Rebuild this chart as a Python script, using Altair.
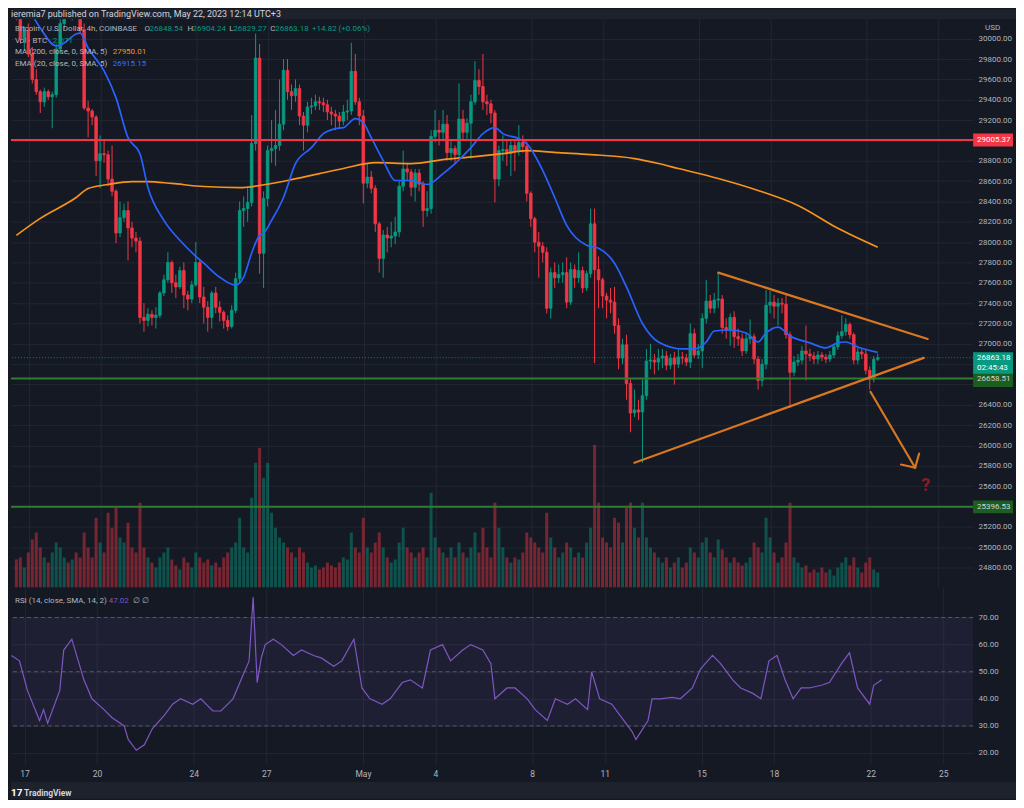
import altair as alt
import pandas as pd

# ---------------- data ----------------
close = [30220, 30000, 30080, 29850, 29600, 29480, 29380, 29480, 29430, 29450,
         29900, 30150, 30300, 30250, 30350, 30300, 30090, 29320, 29290, 29230,
         28800, 28870, 28860, 28620, 28500, 28090, 28240, 28310, 28140, 28040,
         28010, 27260, 27230, 27290, 27260, 27280, 27500, 27630, 27800, 27600,
         27560, 27720, 27480, 27440, 27580, 27800, 27460, 27360, 27260, 27500,
         27360, 27310, 27230, 27170, 27330, 27640, 28310, 28330, 28390, 28970,
         29810, 27890, 28430, 28900, 28920, 28950, 29160, 29690, 29480, 29440,
         29510, 29240, 29150, 29330, 29340, 29380, 29370, 29350, 29280, 29260,
         29240, 29190, 29280, 29290, 29680, 29380, 29240, 28580, 28640, 28530,
         28180, 27840, 28070, 28040, 28060, 28100, 28550, 28720, 28690, 28540,
         28680, 28570, 28310, 28330, 29040, 29100, 29080, 29160, 28880, 28920,
         28860, 29210, 29080, 29170, 29380, 29590, 29530, 29380, 29360, 29270,
         28620, 28900, 28910, 28870, 28950, 28900, 28980, 28940, 28480, 28230,
         28000, 27960, 27900, 27350, 27700, 27650, 27680, 27700, 27410, 27730,
         27650, 27720, 27550, 27690, 28180, 27730, 27630, 27470, 27430, 27410,
         27180, 26860, 26990, 26610, 26320, 26350, 26330, 26490, 26830, 26840,
         26820, 26860, 26880, 26790, 26860, 26800, 26870, 26860, 26820, 27100,
         26890, 26930, 27250, 27420, 27350, 27430, 27440, 27160, 27130, 27260,
         27070, 27050, 26930, 27050, 27070, 26850, 26640, 26800, 27380, 27410,
         27370, 27400, 27390, 27090, 26720, 26820, 26840, 26930, 26900, 26880,
         26850, 26890, 26870, 26850, 26890, 26970, 27080, 27120, 27190, 27090,
         26840, 26920, 26900, 26740, 26650, 26848.54, 26863.18]

high = [30420, 30300, 30120, 30150, 29920, 29700, 29500, 29520, 29500, 29480,
        29950, 30250, 30400, 30450, 30480, 30420, 30350, 30150, 29390, 29310,
        29250, 29050, 29000, 28900, 28950, 28520, 28400, 28380, 28400, 28200,
        28100, 28050, 27400, 27350, 27330, 27360, 27520, 27680, 27900, 27820,
        27680, 27760, 27800, 27520, 27620, 28000, 27830, 27560, 27420, 27520,
        27560, 27420, 27330, 27280, 27380, 27700, 28400, 28450, 28550, 29250,
        30050, 29950, 28500, 28950, 29200, 29300, 29600, 29800, 29800, 29550,
        29600, 29550, 29280, 29380, 29420, 29450, 29430, 29420, 29400, 29330,
        29300, 29280, 29350, 29400, 29960, 29850, 29420, 29300, 28780, 28700,
        28560, 28200, 28120, 28150, 28200, 28250, 28600, 28900, 28780, 28720,
        28720, 28720, 28600, 28500, 29100, 29300, 29200, 29300, 29250, 29000,
        28950, 29560, 29300, 29220, 29450, 29780, 29700, 29850, 29450, 29400,
        29300, 28950, 29050, 29000, 29000, 29000, 29150, 29050, 28990, 28500,
        28250, 28100, 28000, 27950, 27750, 27800, 27780, 27800, 27850, 27800,
        27780, 27900, 27760, 27720, 28330, 28330, 27860, 27650, 27500, 27550,
        27560, 27250, 27050, 27090, 26650, 26550, 26450, 26650, 26950, 27000,
        26900, 26950, 26950, 26930, 26900, 26920, 26950, 26920, 26900, 27200,
        27150, 27000, 27300, 27630, 27480, 27500, 27700, 27480, 27250, 27300,
        27320, 27150, 27100, 27100, 27240, 27100, 26880, 26850, 27530, 27520,
        27480, 27450, 27450, 27500, 27120, 26880, 26900, 26980, 27180, 26950,
        26920, 26930, 26920, 26900, 26930, 27000, 27120, 27280, 27250, 27210,
        27110, 26960, 26960, 26950, 26780, 26880, 26904.24]

low = [30180, 29950, 29880, 29820, 29560, 29450, 29270, 29330, 29400, 29120,
       29420, 29860, 30100, 30200, 30180, 30200, 30050, 29300, 29030, 29150,
       28650, 28530, 28780, 28550, 28450, 27990, 28050, 28200, 27820, 27950,
       27900, 27200, 27120, 27170, 27180, 27150, 27250, 27470, 27600, 27500,
       27450, 27540, 27350, 27330, 27400, 27560, 27400, 27200, 27120, 27150,
       27300, 27220, 27150, 27130, 27150, 27300, 27600, 28150, 28200, 28350,
       28900, 27690, 27550, 28350, 28780, 28750, 28900, 29100, 29400, 29300,
       29380, 29150, 28900, 29080, 29260, 29300, 29300, 29280, 29200, 29150,
       29100, 29120, 29150, 29200, 29250, 29350, 29150, 28380, 28530, 28480,
       28100, 27700, 27650, 27900, 27950, 27980, 28050, 28500, 28600, 28450,
       28400, 28500, 28150, 28250, 28280, 28980, 28950, 29000, 28800, 28800,
       28770, 28830, 29000, 29000, 28820, 29350, 29450, 29300, 29250, 29170,
       28390, 28550, 28800, 28750, 28650, 28700, 28850, 28880, 28400, 28150,
       27900, 27650, 27800, 27300, 27250, 27550, 27600, 27600, 27350, 27380,
       27550, 27600, 27500, 27520, 27650, 26810, 27350, 27350, 27250, 27300,
       27100, 26750, 26800, 26450, 26130, 26280, 26250, 25830, 26450, 26750,
       26700, 26740, 26760, 26740, 26750, 26600, 26760, 26800, 26780, 26760,
       26860, 26850, 26760, 27200, 27300, 27300, 27350, 27100, 27050, 26980,
       26960, 26980, 26880, 26900, 27000, 26800, 26550, 26580, 26750, 27300,
       27250, 27180, 27300, 27050, 26370, 26680, 26780, 26800, 26640, 26830,
       26800, 26800, 26830, 26810, 26820, 26860, 26940, 27050, 27080, 27050,
       26800, 26800, 26850, 26700, 26550, 26620, 26829.27]

# volume, hundreds of BTC
volume = [28, 30, 20, 35, 48, 55, 40, 30, 25, 35,
          45, 40, 30, 25, 28, 35, 30, 55, 40, 30,
          70, 45, 35, 75, 60, 80, 50, 45, 65, 40,
          35, 85, 40, 30, 25, 20, 30, 35, 40, 28,
          22, 18, 30, 25, 20, 35, 30, 25, 28, 22,
          25, 20, 30, 35, 40, 45, 70, 40, 35, 90,
          125, 140, 110, 125, 75, 60, 50, 45, 40, 35,
          30, 40, 35, 25, 20, 22, 18, 20, 25, 22,
          20, 25, 30, 28, 55, 40, 35, 70, 40, 35,
          45, 55, 40, 30, 25, 28, 45, 60, 40, 35,
          30, 35, 40, 30, 95, 50, 40, 35, 30, 40,
          30, 45, 35, 30, 40, 55, 35, 60, 40, 30,
          85, 60, 40, 30, 25, 30, 28, 35, 55, 50,
          45, 40, 35, 75, 50, 40, 30, 35, 45, 40,
          30, 35, 30, 45, 60, 143, 85, 50, 45, 40,
          70, 65, 45, 80, 85, 60, 50, 85, 50, 40,
          35, 30, 25, 30, 20, 25, 30, 20, 25, 40,
          35, 30, 45, 50, 35, 30, 48, 38, 30, 25,
          30, 25, 22, 25, 30, 45, 40, 35, 70, 50,
          35, 25, 30, 45, 85, 30, 25, 20, 22, 15,
          18, 15, 20, 15, 18, 12, 20, 25, 30, 22,
          30, 20, 15, 25, 30, 18, 15]

open_ = [30300] + close[:-1]

ma_idx = [0, 6, 15, 18, 23, 29, 33, 39, 47, 56, 64, 68, 76, 82, 90, 99, 107, 115,
          122, 128, 136, 144, 155, 161, 166, 176, 186, 196, 206, 216]
ma_val = [28067, 28234, 28439, 28527, 28567, 28596, 28596, 28577, 28547, 28537,
          28577, 28606, 28674, 28724, 28782, 28773, 28812, 28841, 28871, 28900,
          28880, 28861, 28822, 28773, 28724, 28626, 28508, 28361, 28136, 27950.01]

ema_idx = [3, 6, 10, 12, 15, 16, 18, 22, 25, 28, 31, 33, 37, 41, 45, 47, 51, 55, 57,
           59, 61, 62, 64, 67, 70, 74, 77, 80, 82, 85, 87, 89, 92, 95, 99, 103, 107,
           110, 114, 117, 120, 122, 126, 128, 132, 135, 138, 143, 146, 150, 153, 157,
           161, 167, 170, 173, 175, 179, 183, 186, 188, 191, 194, 199, 203, 206, 208,
           211, 216]
ema_val = [30300, 30105, 29929, 29958, 30047, 30056, 29909, 29684, 29419, 29027,
           28870, 28537, 28214, 28018, 27861, 27793, 27655, 27577, 27655, 27891,
           28067, 28087, 28214, 28439, 28773, 28929, 29067, 29116, 29126, 29214,
           29174, 29027, 28802, 28606, 28606, 28567, 28674, 28773, 28929, 29067,
           29126, 29067, 29018, 28969, 28704, 28439, 28165, 27969, 27940, 27793,
           27560, 27200, 27018, 26950, 26950, 27018, 27126, 27136, 27107, 27018,
           27107, 27165, 27077, 27009, 26960, 27009, 27018, 26969, 26915.15]

rsi_idx = [0, 2, 4, 7, 8, 9, 12, 13, 15, 18, 20, 23, 25, 28, 29, 31, 33, 35, 38, 40,
           42, 45, 47, 50, 52, 55, 57, 59, 60, 61, 62, 63, 65, 67, 70, 72, 75, 77, 80, 82,
           85, 87, 89, 92, 94, 97, 99, 102, 104, 107, 109, 112, 114, 117, 119, 120, 123,
           125, 128, 130, 133, 135, 138, 140, 143, 144, 146, 149, 151, 154, 155, 158,
           159, 161, 164, 166, 169, 171, 174, 176, 179, 181, 184, 186, 188, 190, 192,
           194, 196, 198, 201, 203, 206, 208, 210, 213, 214, 216]
rsi_val = [56, 54, 43, 32, 36, 31, 43, 58, 62, 47, 40, 36, 33, 30, 25, 21, 23, 29, 34, 38,
           40, 38, 40, 35.5, 35.5, 40, 47, 54, 77.5, 46, 55, 60, 62, 60, 56, 58, 56, 55, 52, 54,
           62, 44, 40, 38, 40, 46, 47, 44, 58, 60, 54, 58, 60, 58, 53, 40, 44,
           44, 40, 36, 32, 40, 38, 40, 36, 50, 40, 38, 34, 28, 25, 32,
           40, 40, 40.5, 40, 44, 51, 56, 53, 47, 44, 42, 40, 54, 56, 47,
           40, 44, 44, 45, 46, 53, 57, 44, 38, 45, 47.02]

price_ticks = list(range(24800, 30001, 200))
hidden_ticks = [26600, 26800]          # covered by the price tags in the reference
rsi_ticks = [20, 30, 40, 50, 60, 70]
date_ticks = [(2023, 4, 17), (2023, 4, 20), (2023, 4, 24), (2023, 4, 27), (2023, 5, 1),
              (2023, 5, 4), (2023, 5, 8), (2023, 5, 11), (2023, 5, 15), (2023, 5, 18),
              (2023, 5, 22), (2023, 5, 25)]

levels_red = [29005.37]
levels_green = [26658.51, 25396.53]
last_price = 26863.18

# trend lines and arrow (start time, start price, end time, end price)
seg_t1 = ["2023-05-15T19:00:00Z", "2023-05-12T07:00:00Z", "2023-05-22T03:43:00Z",
          "2023-05-24T00:33:00Z", "2023-05-24T00:33:00Z"]
seg_p1 = [27700, 25830, 26528, 25781, 25781]
seg_t2 = ["2023-05-24T13:06:00Z", "2023-05-24T09:09:00Z", "2023-05-24T00:33:00Z",
          "2023-05-23T10:24:00Z", "2023-05-24T04:31:00Z"]
seg_p2 = [27048, 26862, 25781, 25813, 25921]

# ---------------- build tables ----------------
start = pd.Timestamp("2023-04-16 11:00")
times = [(start + pd.Timedelta(hours=4 * i)).strftime("%Y-%m-%dT%H:%M:%SZ")
         for i in range(len(close))]
direction = ["up" if c >= o else "down" for o, c in zip(open_, close)]
candles = pd.DataFrame({"t": times, "o": open_, "h": high, "l": low, "c": close,
                        "v": volume, "dir": direction})
ma_df = pd.DataFrame({"t": [times[i] for i in ma_idx], "val": ma_val})
ema_df = pd.DataFrame({"t": [times[i] for i in ema_idx], "val": ema_val})
rsi_df = pd.DataFrame({"t": [times[i] for i in rsi_idx], "val": rsi_val})
seg_df = pd.DataFrame({"t1": seg_t1, "p1": seg_p1, "t2": seg_t2, "p2": seg_p2})

# ---------------- style ----------------
BG = "#151924"
FRAME = "#1e222d"
GRID = "#222632"
LBL = "#b2b5be"
UP = "#089981"
DOWN = "#f23645"
ORANGE = "#f7931a"
BLUE = "#2962ff"
TREND = "#d8771f"
PURPLE = "#7e57c2"
FONT = "Roboto"

W = 965
H_PRICE = 570
H_RSI = 177

def dt(y, m, d, h=0, mi=0):
    return alt.DateTime(year=y, month=m, date=d, hours=h, minutes=mi, utc=True)

xscale = alt.Scale(type="utc", domain=[dt(2023, 4, 16, 10, 38), dt(2023, 5, 26, 5, 41)])
date_vals = [dt(*d) for d in date_ticks]
x_axis_price = alt.Axis(values=date_vals, labels=False, ticks=False, domain=False,
                        grid=True, gridColor=GRID, title=None)
x_axis_rsi = alt.Axis(values=date_vals, ticks=False, domain=False, grid=True,
                      gridColor=GRID, title=None, labelColor=LBL, labelFontSize=8.5,
                      labelPadding=6, minExtent=18,
                      labelExpr="utcdate(datum.value) == 1 ? utcFormat(datum.value, '%b') : utcFormat(datum.value, '%-d')")

hide_expr = " || ".join(f"datum.value == {v}" for v in hidden_ticks)
yscale_p = alt.Scale(domain=[24604, 30193], zero=False, nice=False)
y_axis_p = alt.Axis(orient="right", values=price_ticks, grid=True,
                    gridColor=GRID, ticks=False, domain=False, labelColor=LBL,
                    labelFontSize=8, labelPadding=5, title=None,
                    labelExpr=f"({hide_expr}) ? '' : format(datum.value, '.2f')")

def XP(field="t"):
    return alt.X(f"{field}:T", scale=xscale, axis=x_axis_price)

def YP(field):
    return alt.Y(f"{field}:Q", scale=yscale_p, axis=y_axis_p)

dir_color = alt.Color("dir:N", scale=alt.Scale(domain=["up", "down"], range=[UP, DOWN]), legend=None)
dir_stroke = alt.Stroke("dir:N", scale=alt.Scale(domain=["up", "down"], range=[UP, DOWN]), legend=None)

def text_at(s, px, py, color=LBL, size=8, weight="normal", align="left"):
    return alt.Chart(alt.Data(values=[{"s": s}])).mark_text(
        align=align, baseline="middle", fontSize=size, color=color, fontWeight=weight
    ).encode(x=alt.value(px), y=alt.value(py), text="s:N")

# ---------------- price pane ----------------
vol = alt.Chart(candles).mark_bar(size=3, opacity=0.45, clip=True).encode(
    x=XP(), y=alt.Y("v:Q", scale=alt.Scale(domain=[0, 570]), axis=None), color=dir_color)

wicks = alt.Chart(candles).mark_rule(strokeWidth=1, clip=True).encode(
    x=XP(), y=YP("l"), y2="h:Q", color=dir_color)
bodies = alt.Chart(candles).mark_bar(size=2.6, strokeWidth=0.8, clip=True).encode(
    x=XP(), y=YP("o"), y2="c:Q", color=dir_color, stroke=dir_stroke)

ma_line = alt.Chart(ma_df).mark_line(color=ORANGE, strokeWidth=1.7, interpolate="monotone",
                                     clip=True).encode(x=XP(), y=YP("val"))
ema_line = alt.Chart(ema_df).mark_line(color=BLUE, strokeWidth=1.7, interpolate="monotone",
                                       clip=True).encode(x=XP(), y=YP("val"))

red_rule = alt.Chart(pd.DataFrame({"p": levels_red})).mark_rule(color=DOWN, strokeWidth=2).encode(y=YP("p"))
green_rule = alt.Chart(pd.DataFrame({"p": levels_green})).mark_rule(color="#2e7d32", strokeWidth=2).encode(y=YP("p"))
last_rule = alt.Chart(pd.DataFrame({"p": [last_price]})).mark_rule(
    color=UP, strokeWidth=1, strokeDash=[1, 2], opacity=0.8).encode(y=YP("p"))

segs = alt.Chart(seg_df).mark_rule(color=TREND, strokeWidth=2.2, strokeCap="round", clip=True).encode(
    x=alt.X("t1:T", scale=xscale, axis=x_axis_price), x2="t2:T", y=YP("p1"), y2="p2:Q")

qmark = alt.Chart(pd.DataFrame({"t": ["2023-05-24T11:08:00Z"], "p": [25597], "s": ["?"]})).mark_text(
    fontSize=18, fontWeight="bold", color="#8e1b24", baseline="middle").encode(
    x=XP(), y=YP("p"), text="s:N")

def tag(price, label, bg, fg, y0=-0.325, y1=0.325, second=None):
    d = alt.Data(values=[{"p": price, "s": label, "s2": second or ""}])
    path = f"M-1,{y0}L1,{y0}L1,{y1}L-1,{y1}Z"
    box = alt.Chart(d).mark_point(shape=path, filled=True, size=1600, color=bg, opacity=1,
                                  strokeWidth=0).encode(x=alt.value(W + 20), y=YP("p"))
    txt = alt.Chart(d).mark_text(align="left", baseline="middle", fontSize=8, color=fg).encode(
        x=alt.value(W + 4), y=YP("p"), text="s:N")
    layers = [box, txt]
    if second:
        layers.append(alt.Chart(d).mark_text(align="left", baseline="middle", fontSize=8,
                                             color=fg, dy=10.5).encode(
            x=alt.value(W + 4), y=YP("p"), text="s2:N"))
    return layers

tags = []
tags += tag(29005.37, "29005.37", DOWN, "#ffffff")
tags += tag(25396.53, "25396.53", "#1b5e20", "#d1d4dc")
tags += tag(26658.51, "26658.51", "#1b5e20", "#d1d4dc", y0=-0.3, y1=0.42)
tags += tag(last_price, "26863.18", UP, "#ffffff", y0=-0.27, y1=0.8, second="02:45:43")

legend = [
    text_at("Bitcoin / U.S. Dollar, 4h, COINBASE", 4, 10),
    text_at("O", 134, 10), text_at("26848.54", 139, 10, UP),
    text_at("H", 177, 10), text_at("26904.24", 182, 10, UP),
    text_at("L", 219, 10), text_at("26829.27", 223, 10, UP),
    text_at("C", 260, 10), text_at("26863.18", 265, 10, UP),
    text_at("+14.82 (+0.06%)", 302, 10, UP),
    text_at("Vol · BTC", 4, 21.5), text_at("2.071", 42, 21.5, UP),
    text_at("MA (200, close, 0, SMA, 5)", 4, 33), text_at("27950.01", 102, 33, ORANGE),
    text_at("EMA (20, close, 0, SMA, 5)", 4, 44.5), text_at("26915.15", 102, 44.5, "#3d6fff"),
    text_at("USD", W + 12, 9),
]

price_inner = alt.layer(wicks, bodies, ma_line, ema_line, red_rule, green_rule, last_rule,
                        segs, qmark, *tags, *legend)
price = alt.layer(vol, price_inner).resolve_scale(y="independent").properties(
    width=W, height=H_PRICE, view=alt.ViewBackground(fill=None, stroke=None))

# ---------------- RSI pane ----------------
rscale = alt.Scale(domain=[15.96, 81.1], zero=False, nice=False)
r_axis = alt.Axis(orient="right", values=rsi_ticks, format=".2f", grid=True, gridColor=GRID,
                  ticks=False, domain=False, labelColor=LBL, labelFontSize=8, labelPadding=5,
                  title=None)
band = alt.Chart(alt.Data(values=[{"lo": 30, "hi": 70}])).mark_rect(color=PURPLE, opacity=0.1).encode(
    y=alt.Y("lo:Q", scale=rscale, axis=r_axis), y2="hi:Q")
dashes = alt.Chart(alt.Data(values=[{"v": 30}, {"v": 50}, {"v": 70}])).mark_rule(
    color="#787b86", strokeDash=[4, 3], opacity=0.6).encode(y=alt.Y("v:Q", scale=rscale, axis=r_axis))
rsi_line = alt.Chart(rsi_df).mark_line(color=PURPLE, strokeWidth=1.2).encode(
    x=alt.X("t:T", scale=xscale, axis=x_axis_rsi), y=alt.Y("val:Q", scale=rscale, axis=r_axis))
rsi_legend = [text_at("RSI (14, close, SMA, 14, 2)", 4, 14), text_at("47.02", 98, 14, PURPLE),
              text_at("∅  ∅", 122, 14)]
rsi = alt.layer(band, dashes, rsi_line, *rsi_legend).properties(
    width=W, height=H_RSI, view=alt.ViewBackground(fill=None, stroke=None))

# ---------------- header / footer ----------------
header = text_at("ieremia7 published on TradingView.com, May 22, 2023 12:14 UTC+3", 0, 5,
                 color="#d1d4dc", size=9).properties(
    width=1008, height=10, view=alt.ViewBackground(fill=FRAME, stroke=None))
footer = alt.layer(
    text_at("17", 0, 11, color="#ffffff", size=10, weight="bold"),
    text_at("TradingView", 13, 11, color="#d1d4dc", size=8.5, weight="bold"),
).properties(width=1008, height=17, view=alt.ViewBackground(fill=FRAME, stroke=None))

chart = alt.vconcat(header, price, rsi, footer, spacing=0).properties(
    background=BG, padding=0
).configure_view(stroke=None).configure_text(font=FONT).configure_axis(labelFont=FONT)

chart.save("out.html", embed_options={"renderer": "svg", "actions": False})
